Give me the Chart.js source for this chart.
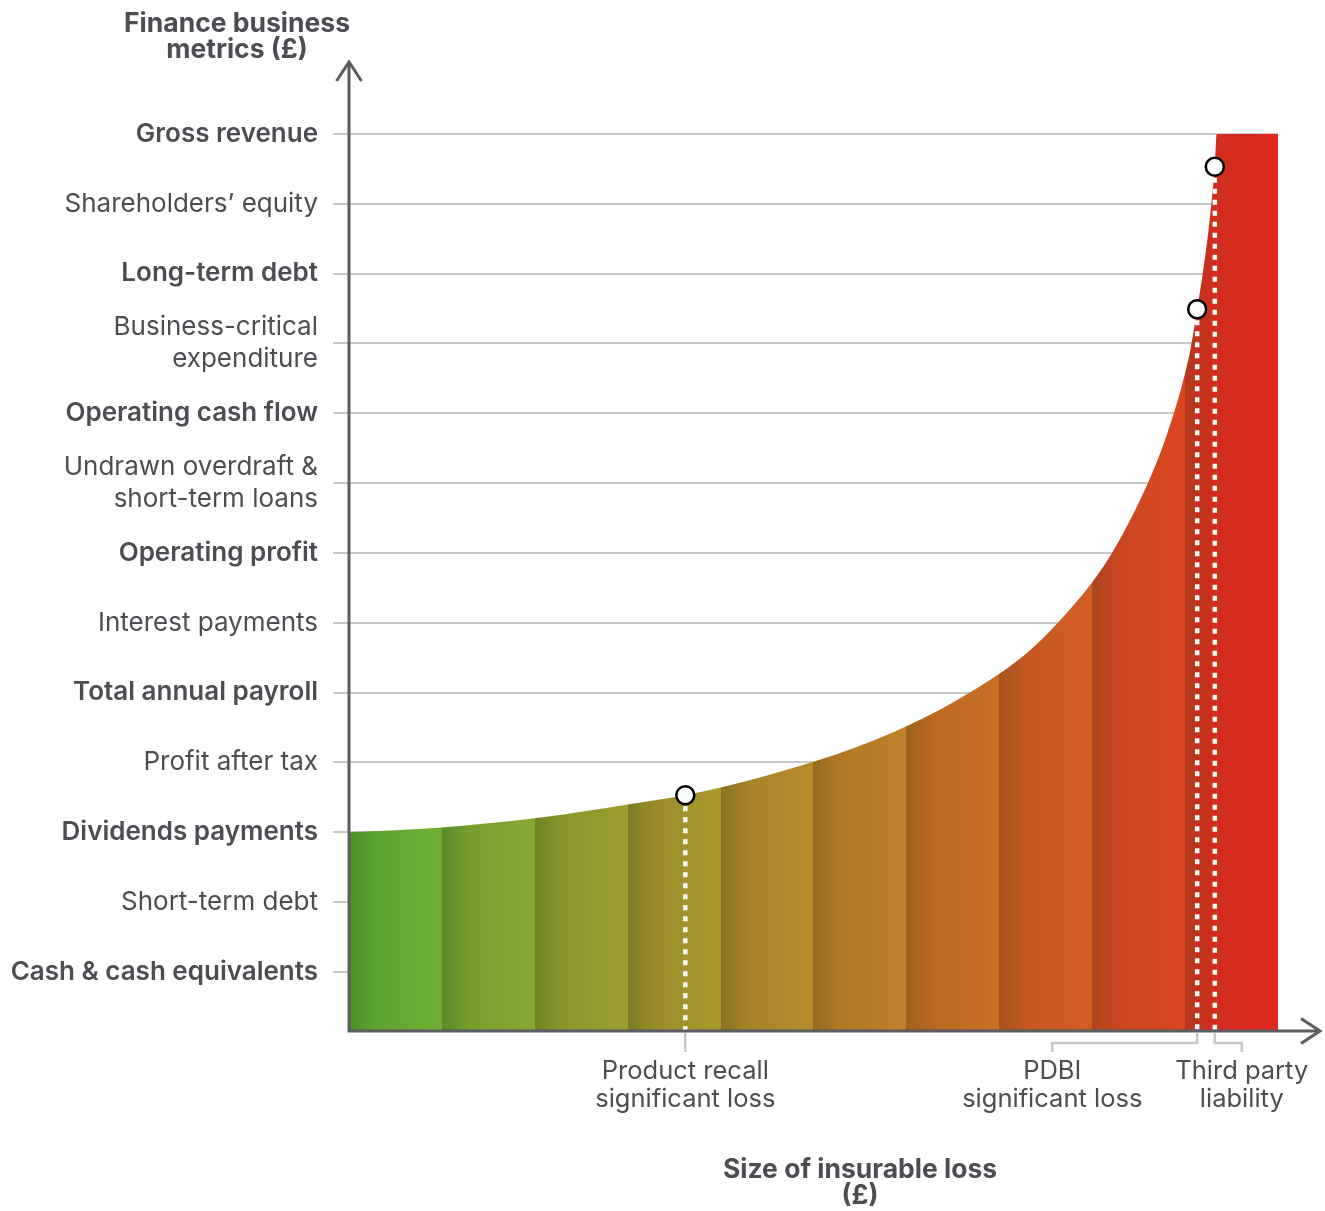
<!DOCTYPE html>
<html>
<head>
<meta charset="utf-8">
<script src="https://cdn.jsdelivr.net/npm/chart.js@4.4.1/dist/chart.umd.min.js"></script>
<style>
  html, body { margin: 0; padding: 0; background: #ffffff; }
  canvas { display: block; }
</style>
</head>
<body>
<canvas id="chart" width="1325" height="1211"></canvas>
<script>
// Finance metrics, from smallest (bottom) to largest (top)
const Y_LABELS = [
  'Cash & cash equivalents',
  'Short-term debt',
  'Dividends payments',
  'Profit after tax',
  'Total annual payroll',
  'Interest payments',
  'Operating profit',
  ['Undrawn overdraft &', 'short-term loans'],
  'Operating cash flow',
  ['Business-critical', 'expenditure'],
  'Long-term debt',
  'Shareholders\u2019 equity',
  'Gross revenue'
];
const Y_BOLD = [true, false, true, false, true, false, true, false, true, false, true, false, true];

// Loss curve: size of insurable loss (x) against finance metric reached (y)
const CURVE_X = [0.00, 1.00, 2.00, 3.00, 3.62, 4.00, 5.00, 5.50, 6.00, 6.50, 7.00, 7.30, 7.65, 8.00, 8.19, 8.40, 8.60, 8.80, 8.97, 9.06, 9.13, 9.19, 9.25, 9.29, 9.32, 9.34, 10.00];
const CURVE_Y = [3.00, 3.07, 3.20, 3.40, 3.53, 3.64, 4.01, 4.24, 4.52, 4.86, 5.27, 5.57, 6.03, 6.58, 6.95, 7.45, 8.00, 8.68, 9.42, 9.93, 10.49, 11.00, 11.60, 12.10, 12.53, 13.00, 13.00];

// Loss scenarios marked on the curve
const LOSS_X = [3.62, 9.13, 9.32];
const LOSS_Y = [3.53, 10.49, 12.53];
const LOSS_LABELS = [['Product recall', 'significant loss'], ['PDBI', 'significant loss'], ['Third party', 'liability']];
const LOSS_LABEL_X = [3.62, 7.57, 9.61];

// Colour bands along the loss axis (left shade, right shade)
const BAND_DARK  = ['#46902a', '#5a8a29', '#6e8427', '#7d7b25', '#8a7323', '#956c20', '#a0611f', '#a8531f', '#ad461e', '#b4381e'];
const BAND_LIGHT = ['#6fae34', '#88a930', '#9c9f2e', '#aa982b', '#b68c2a', '#c08029', '#ca6e25', '#d35e24', '#dc4722', '#e0281e'];

const Y_MIN = 0.155, Y_MAX = 14.03;
const X_MIN = 0, X_MAX = 10;
const TEXT = '#4b4d52';
const AXIS = '#5b5d62';
const GUIDE = '#c6c6c6';
const FONT = 'Inter, "Liberation Sans", sans-serif';

function mix(a, b, t) {
  const pa = parseInt(a.slice(1), 16), pb = parseInt(b.slice(1), 16);
  const ch = s => [(s >> 16) & 255, (s >> 8) & 255, s & 255];
  const ca = ch(pa), cb = ch(pb);
  return 'rgb(' + ca.map((v, i) => Math.round(v + (cb[i] - v) * t)).join(',') + ')';
}

function bandFill(context) {
  const chart = context.chart;
  if (!chart.chartArea) return null;
  const xs = chart.scales.x;
  const n = BAND_DARK.length;
  const g = chart.ctx.createLinearGradient(xs.getPixelForValue(0), 0, xs.getPixelForValue(n), 0);
  for (let i = 0; i < n; i++) {
    g.addColorStop(i / n, BAND_DARK[i]);
    g.addColorStop((i + 0.3) / n, mix(BAND_DARK[i], BAND_LIGHT[i], 0.62));
    g.addColorStop((i + 1) / n, BAND_LIGHT[i]);
  }
  return g;
}

// Axes with arrow heads, loss brackets, labels and titles
const decorations = {
  id: 'decorations',
  afterDatasetsDraw(chart) {
    const { ctx, chartArea, scales } = chart;
    const xs = scales.x;
    const x0 = chartArea.left, y0 = chartArea.bottom;
    ctx.save();

    // brackets under the loss axis
    ctx.strokeStyle = GUIDE;
    ctx.lineWidth = 2.5;
    LOSS_X.forEach((lx, i) => {
      const px = xs.getPixelForValue(lx);
      const qx = xs.getPixelForValue(LOSS_LABEL_X[i]);
      ctx.beginPath();
      ctx.moveTo(px, y0 + 2);
      ctx.lineTo(px, y0 + 12);
      ctx.lineTo(qx, y0 + 12);
      ctx.lineTo(qx, y0 + 21);
      ctx.stroke();
    });

    // axis lines
    ctx.strokeStyle = AXIS;
    ctx.lineWidth = 3;
    ctx.lineCap = 'butt';
    ctx.beginPath();
    ctx.moveTo(x0, y0);
    ctx.lineTo(x0, chartArea.top);
    ctx.moveTo(x0 - 1.5, y0);
    ctx.lineTo(1319, y0);
    ctx.stroke();
    ctx.lineJoin = 'miter';
    ctx.beginPath();
    ctx.moveTo(x0 - 12.5, chartArea.top + 19);
    ctx.lineTo(x0, chartArea.top);
    ctx.lineTo(x0 + 12.5, chartArea.top + 19);
    ctx.stroke();
    ctx.beginPath();
    ctx.moveTo(1301, y0 - 12.5);
    ctx.lineTo(1320, y0);
    ctx.lineTo(1301, y0 + 12.5);
    ctx.stroke();

    // loss labels
    ctx.fillStyle = TEXT;
    ctx.textAlign = 'center';
    ctx.textBaseline = 'middle';
    ctx.font = '400 25.5px ' + FONT;
    LOSS_LABELS.forEach((lines, i) => {
      const qx = xs.getPixelForValue(LOSS_LABEL_X[i]);
      lines.forEach((t, j) => ctx.fillText(t, qx, y0 + 40 + j * 28));
    });

    // axis titles
    ctx.font = '700 26.5px ' + FONT;
    ctx.fillText('Finance business', 237, 24);
    ctx.fillText('metrics (\u00a3)', 237, 50);
    ctx.fillText('Size of insurable loss', 860, 1170);
    ctx.fillText('(\u00a3)', 860, 1196);
    ctx.restore();
  }
};

const ctx = document.getElementById('chart').getContext('2d');
new Chart(ctx, {
  type: 'line',
  data: {
    datasets: [
      {
        label: 'markers',
        data: LOSS_X.map((x, i) => ({ x, y: LOSS_Y[i] })),
        showLine: false,
        pointRadius: 9,
        pointBorderWidth: 2.5,
        pointBackgroundColor: '#ffffff',
        pointBorderColor: '#000000',
        clip: false,
        order: 1
      },
      ...LOSS_X.map((x, i) => ({
        label: 'drop ' + i,
        data: [{ x, y: LOSS_Y[i] }, { x, y: Y_MIN }],
        borderColor: '#ffffff',
        borderWidth: 4.5,
        borderDash: [5, 6],
        borderCapStyle: 'butt',
        pointRadius: 0,
        fill: false,
        order: 2
      })),
      {
        label: 'loss curve',
        data: CURVE_X.map((x, i) => ({ x, y: CURVE_Y[i] })),
        borderWidth: 0,
        borderColor: 'rgba(0,0,0,0)',
        backgroundColor: bandFill,
        fill: 'start',
        pointRadius: 0,
        cubicInterpolationMode: 'monotone',
        order: 3
      }
    ]
  },
  options: {
    responsive: false,
    animation: false,
    events: [],
    layout: { padding: { left: 0, top: 62, right: 47, bottom: 180 } },
    plugins: { legend: { display: false }, tooltip: { enabled: false }, title: { display: false } },
    scales: {
      x: { type: 'linear', min: X_MIN, max: X_MAX, display: false },
      y: {
        type: 'linear',
        min: Y_MIN,
        max: Y_MAX,
        afterFit: s => { s.width = 349; },
        afterBuildTicks: s => { s.ticks = Y_LABELS.map((_, i) => ({ value: i + 1 })); },
        border: { display: false },
        grid: { color: '#c8c8c8', lineWidth: 2, tickLength: 16, drawTicks: true },
        ticks: {
          autoSkip: false,
          padding: 15,
          color: TEXT,
          callback: v => Y_LABELS[v - 1],
          font: c => ({ family: FONT, size: 26, weight: Y_BOLD[c.index] ? '600' : '400', lineHeight: 1.23 })
        }
      }
    }
  },
  plugins: [decorations]
});
</script>
</body>
</html>
